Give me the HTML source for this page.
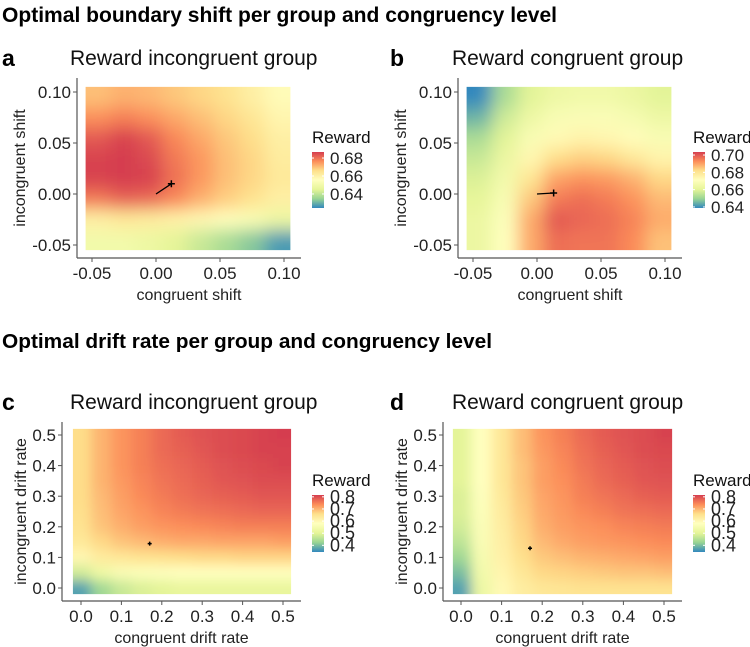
<!DOCTYPE html>
<html><head><meta charset="utf-8"><style>
body{margin:0;background:#fff;}
svg{display:block;font-family:"Liberation Sans",sans-serif;}
</style></head><body>
<svg id="fig" width="750" height="647" viewBox="0 0 750 647">
<defs>
<filter id="blurAB" x="-20%" y="-20%" width="140%" height="140%"><feGaussianBlur stdDeviation="8.5"/></filter>
<filter id="blurCD" x="-20%" y="-20%" width="140%" height="140%"><feGaussianBlur stdDeviation="6"/></filter>
<linearGradient id="spec" x1="0" y1="1" x2="0" y2="0">
<stop offset="0" stop-color="#3288BD"/><stop offset="0.1667" stop-color="#99D594"/><stop offset="0.3333" stop-color="#E6F598"/><stop offset="0.5" stop-color="#FFFFBF"/><stop offset="0.6667" stop-color="#FEE08B"/><stop offset="0.8333" stop-color="#FC8D59"/><stop offset="1" stop-color="#D53E4F"/>
</linearGradient>
</defs>
<text x="2" y="22" font-size="21" font-weight="bold" textLength="555" lengthAdjust="spacingAndGlyphs">Optimal boundary shift per group and congruency level</text>
<text x="2" y="348" font-size="20" font-weight="bold" textLength="490" lengthAdjust="spacingAndGlyphs">Optimal drift rate per group and congruency level</text>
</svg>
<script>
// ---- data ----
const abCenters = [-0.045,-0.025,-0.005,0.015,0.035,0.055,0.075,0.095];
const abRowsY = [0.095,0.075,0.055,0.035,0.015,-0.005,-0.025,-0.045];
const rewardA = [
[0.670,0.672,0.671,0.669,0.667,0.665,0.661,0.657],
[0.676,0.678,0.676,0.673,0.670,0.667,0.664,0.659],
[0.683,0.686,0.683,0.677,0.673,0.669,0.666,0.661],
[0.686,0.688,0.685,0.679,0.675,0.670,0.667,0.662],
[0.686,0.688,0.686,0.680,0.675,0.670,0.667,0.663],
[0.679,0.682,0.681,0.677,0.672,0.668,0.665,0.661],
[0.661,0.663,0.662,0.660,0.658,0.656,0.653,0.648],
[0.650,0.650,0.648,0.645,0.641,0.637,0.633,0.627]];
const rewardB = [
[0.636,0.652,0.660,0.664,0.665,0.665,0.663,0.660],
[0.645,0.657,0.664,0.668,0.669,0.669,0.667,0.664],
[0.652,0.660,0.668,0.673,0.675,0.674,0.672,0.668],
[0.656,0.663,0.674,0.682,0.684,0.683,0.679,0.675],
[0.659,0.666,0.680,0.690,0.692,0.691,0.688,0.683],
[0.661,0.668,0.685,0.695,0.697,0.695,0.692,0.687],
[0.663,0.670,0.689,0.700,0.698,0.697,0.694,0.689],
[0.663,0.671,0.689,0.697,0.696,0.696,0.693,0.686]];
const cdCenters = [0,0.05,0.1,0.15,0.2,0.25,0.3,0.35,0.4,0.45,0.5];
const cdRowsY = [0.5,0.45,0.4,0.35,0.3,0.25,0.2,0.15,0.1,0.05,0];
const rewardC = [
[.66,.70,.73,.75,.77,.785,.795,.80,.805,.81,.815],
[.66,.70,.73,.75,.77,.78,.79,.80,.805,.81,.81],
[.66,.70,.73,.75,.765,.775,.785,.795,.80,.805,.81],
[.66,.70,.725,.745,.76,.77,.78,.79,.795,.80,.80],
[.66,.695,.72,.74,.755,.765,.775,.78,.785,.79,.79],
[.655,.69,.715,.73,.745,.755,.76,.765,.77,.775,.775],
[.65,.685,.705,.72,.73,.735,.74,.745,.75,.75,.75],
[.635,.665,.685,.695,.705,.71,.71,.715,.715,.715,.72],
[.60,.63,.64,.65,.655,.66,.665,.665,.67,.67,.67],
[.48,.53,.56,.57,.575,.58,.58,.58,.58,.58,.58],
[.37,.43,.47,.49,.50,.51,.51,.51,.51,.51,.51]];
const rewardD = [
[.50,.58,.64,.69,.73,.75,.77,.785,.795,.80,.81],
[.50,.58,.64,.69,.725,.745,.765,.78,.79,.80,.805],
[.50,.58,.64,.685,.72,.74,.76,.775,.785,.795,.80],
[.50,.58,.64,.685,.72,.735,.755,.77,.78,.79,.795],
[.49,.575,.635,.68,.715,.73,.75,.76,.77,.78,.785],
[.49,.57,.63,.675,.71,.725,.74,.75,.76,.765,.77],
[.48,.565,.625,.67,.705,.72,.73,.735,.745,.75,.755],
[.46,.56,.62,.665,.695,.71,.72,.725,.73,.735,.74],
[.43,.55,.615,.655,.68,.69,.70,.705,.71,.715,.72],
[.40,.54,.605,.64,.665,.67,.675,.68,.685,.685,.69],
[.37,.525,.595,.625,.64,.645,.65,.65,.65,.65,.65]];
const abTicks = [-0.05,0,0.05,0.10];
const abTickLabels = ["-0.05","0.00","0.05","0.10"];
const cdTicks = [0,0.1,0.2,0.3,0.4,0.5];
const cdTickLabels = ["0.0","0.1","0.2","0.3","0.4","0.5"];
const legendA = [0.68,0.66,0.64];
const legendB = [0.70,0.68,0.66,0.64];
const legendCD = [0.8,0.7,0.6,0.5,0.4];
const optA = [[0,0],[0.012,0.010]];
const optB = [[0,0],[0.013,0.001]];
const optC = [[0.17,0.145]];
const optD = [[0.17,0.13]];

const NS="http://www.w3.org/2000/svg";
const svg=document.getElementById('fig');
function mk(tag,attrs,parent){const e=document.createElementNS(NS,tag);for(const k in attrs)e.setAttribute(k,attrs[k]);(parent||svg).appendChild(e);return e;}
const stops=[[0,[0x32,0x88,0xBD]],[1/6,[0x99,0xD5,0x94]],[2/6,[0xE6,0xF5,0x98]],[0.5,[0xFF,0xFF,0xBF]],[4/6,[0xFE,0xE0,0x8B]],[5/6,[0xFC,0x8D,0x59]],[1,[0xD5,0x3E,0x4F]]];
function col(t){t=Math.max(0,Math.min(1,t));for(let i=1;i<stops.length;i++){if(t<=stops[i][0]){const a=stops[i-1],b=stops[i];const f=(t-a[0])/(b[0]-a[0]);const c=a[1].map((v,j)=>Math.round(v+(b[1][j]-v)*f));return `rgb(${c[0]},${c[1]},${c[2]})`;}}return 'rgb(213,62,79)';}

function panel(p){
  const xs=v=>p.x0+v*p.kx, ys=v=>p.y0-v*p.ky;
  const g=mk('g',{});  
  const hx0=xs(p.ext[0]),hx1=xs(p.ext[1]),hy0=ys(p.ext[1]),hy1=ys(p.ext[0]);
  const cp=mk('clipPath',{id:'clip-'+p.id},g); mk('rect',{x:hx0,y:hy0,width:hx1-hx0,height:hy1-hy0},cp);
  const hg=mk('g',{'clip-path':`url(#clip-${p.id})`},g);
   
  const bg=mk('g',{filter:`url(#${p.blur})`},hg);
  const n=p.cx.length,m=p.ry.length;
  for(let r=0;r<m;r++)for(let c=0;c<n;c++){
    let x0=xs(p.cx[c]-p.half),x1=xs(p.cx[c]+p.half),y0=ys(p.ry[r]+p.half),y1=ys(p.ry[r]-p.half);
    if(c===0)x0-=30; if(c===n-1)x1+=30; if(r===0)y0-=30; if(r===m-1)y1+=30;
    const t=(p.vals[r][c]-p.lo)/(p.hi-p.lo);
    const rc=mk('rect',{x:x0,y:y0,width:x1-x0+0.5,height:y1-y0+0.5,fill:col(t)},bg);
    
    
  }
  const ax=p.axis;
  const yl=mk('line',{x1:ax.x,y1:ax.yTop,x2:ax.x,y2:ax.y,stroke:'#555','stroke-width':1.2},g);
   
  const xl=mk('line',{x1:ax.x,y1:ax.y,x2:ax.xRight,y2:ax.y,stroke:'#555','stroke-width':1.2},g);
   
  p.ticks.forEach((v,i)=>{
    mk('line',{x1:xs(v),y1:ax.y,x2:xs(v),y2:ax.y+4,stroke:'#555'},g);
    const tx=mk('text',{x:xs(v),y:ax.y+21,'font-size':17,'text-anchor':'middle',fill:'#222'},g);tx.textContent=p.labels[i];
     
    mk('line',{x1:ax.x-4,y1:ys(v),x2:ax.x,y2:ys(v),stroke:'#555'},g);
    const ty=mk('text',{x:ax.x-6,y:ys(v)+6,'font-size':17,'text-anchor':'end',fill:'#222'},g);ty.textContent=p.labels[i];
     
  });
  const xt=mk('text',{x:(ax.x+ax.xRight)/2,y:ax.y+42,'font-size':16,'text-anchor':'middle',fill:'#222'},g);xt.textContent=p.xTitle;
   
  const yt=mk('text',{x:0,y:0,'font-size':16,'text-anchor':'middle',fill:'#222',transform:`translate(${p.yTitleX},${(ax.yTop+ax.y)/2}) rotate(-90)`},g);yt.textContent=p.yTitle;
   
  const lt=mk('text',{x:p.letterX,y:p.titleY+8,'font-size':23,'font-weight':'bold'},g);lt.textContent=p.letter;
   
  const tt=mk('text',{x:p.titleX,y:p.titleY+7,'font-size':21,fill:'#111'},g);tt.textContent=p.title;
   
  const o=p.opt;
  if(o.length>1){const ln=mk('line',{x1:xs(o[0][0]),y1:ys(o[0][1]),x2:xs(o[1][0]),y2:ys(o[1][1]),stroke:'#000','stroke-width':1.3},g);
     }
  const e=o[o.length-1];const px=xs(e[0]),py=ys(e[1]);const s=o.length>1?3.5:2;
  const pm=mk('path',{d:`M${px-s},${py}H${px+s}M${px},${py-s}V${py+s}`,stroke:'#000','stroke-width':1.5},g);
   
  const L=p.leg;
  const lg=mk('g',{},g);  
  const lh=mk('text',{x:L.x,y:L.titleY+6,'font-size':17,fill:'#111'},lg);lh.textContent='Reward';
   
  mk('rect',{x:L.x,y:L.y0,width:12,height:L.y1-L.y0,fill:'url(#spec)'},lg);
  const ly=v=>L.y1-(v-p.lo)/(p.hi-p.lo)*(L.y1-L.y0);
  L.vals.forEach(v=>{
    mk('line',{x1:L.x,y1:ly(v),x2:L.x+2,y2:ly(v),stroke:'#fff'},lg);mk('line',{x1:L.x+10,y1:ly(v),x2:L.x+12,y2:ly(v),stroke:'#fff'},lg);
    const t=mk('text',{x:L.x+18,y:ly(v)+6,'font-size':L.fs,fill:'#222'},lg);t.textContent=L.dec===2?v.toFixed(2):v.toFixed(1);
     
  });
}
panel({id:'a',name:'panel-a',x0:156,kx:1280,y0:194,ky:1020,ext:[-0.055,0.105],cx:abCenters,ry:abRowsY,half:0.01,vals:rewardA,lo:0.6244,hi:0.6867,blur:'blurAB',
 axis:{x:77,yTop:78,y:258,xRight:301},ticks:abTicks,labels:abTickLabels,xTitle:'congruent shift',yTitle:'incongruent shift',yTitleX:25,
 letter:'a',letterX:2,title:'Reward incongruent group',titleX:70,titleY:58,opt:optA,leg:{x:312,titleY:137,y0:152,y1:208,vals:legendA,dec:2,fs:17}});
panel({id:'b',name:'panel-b',x0:537,kx:1280,y0:194,ky:1020,ext:[-0.055,0.105],cx:abCenters,ry:abRowsY,half:0.01,vals:rewardB,lo:0.6388,hi:0.7035,blur:'blurAB',
 axis:{x:458,yTop:78,y:258,xRight:682},ticks:abTicks,labels:abTickLabels,xTitle:'congruent shift',yTitle:'incongruent shift',yTitleX:406,
 letter:'b',letterX:390,title:'Reward congruent group',titleX:452,titleY:58,opt:optB,leg:{x:693,titleY:137,y0:152,y1:208,vals:legendB,dec:2,fs:17}});
panel({id:'c',name:'panel-c',x0:81,kx:404,y0:588,ky:306,ext:[-0.02,0.52],cx:cdCenters,ry:cdRowsY,half:0.025,vals:rewardC,lo:0.345,hi:0.815,blur:'blurCD',
 axis:{x:62,yTop:422,y:601,xRight:301},ticks:cdTicks,labels:cdTickLabels,xTitle:'congruent drift rate',yTitle:'incongruent drift rate',yTitleX:26,
 letter:'c',letterX:2,title:'Reward incongruent group',titleX:70,titleY:402,opt:optC,leg:{x:312,titleY:480,y0:495,y1:552,vals:legendCD,dec:1,fs:18}});
panel({id:'d',name:'panel-d',x0:461,kx:406,y0:588,ky:306,ext:[-0.02,0.52],cx:cdCenters,ry:cdRowsY,half:0.025,vals:rewardD,lo:0.345,hi:0.815,blur:'blurCD',
 axis:{x:443,yTop:422,y:601,xRight:682},ticks:cdTicks,labels:cdTickLabels,xTitle:'congruent drift rate',yTitle:'incongruent drift rate',yTitleX:407,
 letter:'d',letterX:390,title:'Reward congruent group',titleX:452,titleY:402,opt:optD,leg:{x:693,titleY:480,y0:495,y1:552,vals:legendCD,dec:1,fs:18}});
</script>
</body></html>
